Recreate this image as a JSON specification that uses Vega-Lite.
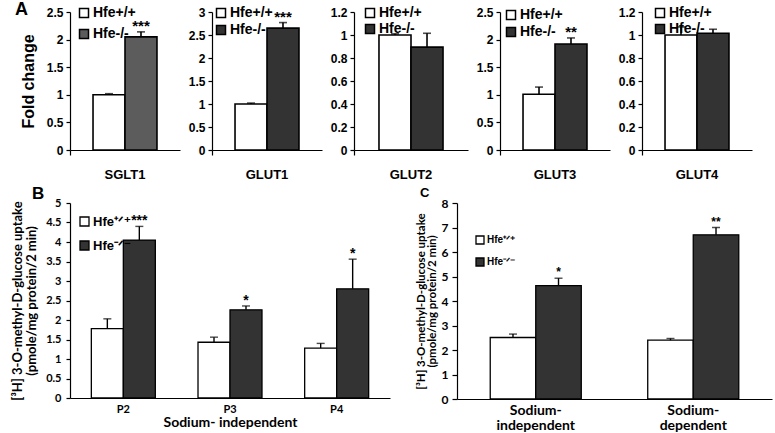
{
  "$schema": "https://vega.github.io/schema/vega-lite/v6.json",
  "autosize": {"type": "none"},
  "padding": {"left": 70, "top": 12, "right": 705, "bottom": 421},
  "background": "white",
  "config": {
    "view": {"stroke": null},
    "axis": {"domainColor": "black", "tickColor": "black", "labelColor": "black", "titleColor": "black", "grid": false, "domainWidth": 1.2, "tickWidth": 1.2},
    "title": {"color": "black"}
  },
  "spacing": 4,
  "resolve": {"scale": {"x": "independent", "y": "independent", "xOffset": "independent", "fill": "independent"}, "legend": {"fill": "independent"}},
  "vconcat": [
    {
      "bounds": "flush",
      "spacing": 32,
      "resolve": {"scale": {"x": "independent", "y": "independent", "xOffset": "independent", "fill": "independent"}, "legend": {"fill": "independent"}},
      "hconcat": [
        {
          "width": 110, "height": 138,
          "title": {"text": "A", "anchor": "start", "frame": "group", "offset": 0, "dx": -55, "dy": 13, "font": "Liberation Sans", "fontSize": 18, "fontWeight": "bold"},
          "data": {"values": [
            {"g": "SGLT1", "geno": "Hfe+/+", "v": 1.0, "hi": 1.02, "s": ""},
            {"g": "SGLT1", "geno": "Hfe-/-", "v": 2.05, "hi": 2.14, "s": "***"}
          ]},
          "encoding": {
            "x": {"field": "g", "type": "nominal", "scale": {"paddingInner": 0, "paddingOuter": 0}, "axis": {"title": null, "labelAngle": 0, "labelFont": "Liberation Sans", "labelFontSize": 13, "labelFontWeight": "bold", "labelPadding": 13, "ticks": true, "tickSize": 5, "bandPosition": 0}},
            "xOffset": {"field": "geno", "type": "nominal", "scale": {"domain": ["Hfe+/+", "Hfe-/-"], "paddingInner": 0, "paddingOuter": 0.72}}
          },
          "layer": [
            {"mark": {"type": "bar", "stroke": "black", "strokeWidth": 1.6},
             "encoding": {
               "y": {"field": "v", "type": "quantitative", "scale": {"domain": [0, 2.5], "nice": false}, "axis": {"values": [0, 0.5, 1, 1.5, 2, 2.5], "format": "~g", "title": "Fold change", "titleFont": "Liberation Sans", "titleFontSize": 16, "titleFontWeight": "bold", "titlePadding": 10, "labelFont": "Liberation Sans", "labelFontSize": 12, "labelFontWeight": "bold", "tickSize": 4, "labelPadding": 3}},
               "fill": {"field": "geno", "type": "nominal", "scale": {"domain": ["Hfe+/+", "Hfe-/-"], "range": ["white", "#5c5c5c"]}, "legend": {"orient": "none", "legendX": 7, "legendY": -6, "title": null, "padding": 0, "symbolType": "square", "symbolSize": 81, "symbolStrokeColor": "black", "symbolStrokeWidth": 1.5, "labelFont": "Liberation Sans", "labelFontSize": 14, "labelFontWeight": "bold", "labelColor": "black", "rowPadding": 5, "labelOffset": 2}}
             }},
            {"mark": {"type": "rule", "color": "black", "strokeWidth": 1.6},
             "encoding": {"y": {"field": "v", "type": "quantitative", "scale": {"domain": [0, 2.5], "nice": false}, "axis": {"values": [0, 0.5, 1, 1.5, 2, 2.5], "format": "~g", "title": "Fold change", "titleFont": "Liberation Sans", "titleFontSize": 16, "titleFontWeight": "bold", "titlePadding": 10, "labelFont": "Liberation Sans", "labelFontSize": 12, "labelFontWeight": "bold", "tickSize": 4, "labelPadding": 3}}, "y2": {"field": "hi"}}},
            {"mark": {"type": "tick", "color": "black", "thickness": 1.6, "size": 8, "orient": "horizontal"},
             "encoding": {"y": {"field": "hi", "type": "quantitative", "scale": {"domain": [0, 2.5], "nice": false}, "axis": {"values": [0, 0.5, 1, 1.5, 2, 2.5], "format": "~g", "title": "Fold change", "titleFont": "Liberation Sans", "titleFontSize": 16, "titleFontWeight": "bold", "titlePadding": 10, "labelFont": "Liberation Sans", "labelFontSize": 12, "labelFontWeight": "bold", "tickSize": 4, "labelPadding": 3}}}},
            {"mark": {"type": "text", "font": "Liberation Sans", "fontSize": 15, "fontWeight": "bold", "baseline": "bottom", "dy": 2, "color": "black"},
             "encoding": {"y": {"field": "hi", "type": "quantitative", "scale": {"domain": [0, 2.5], "nice": false}, "axis": {"values": [0, 0.5, 1, 1.5, 2, 2.5], "format": "~g", "title": "Fold change", "titleFont": "Liberation Sans", "titleFontSize": 16, "titleFontWeight": "bold", "titlePadding": 10, "labelFont": "Liberation Sans", "labelFontSize": 12, "labelFontWeight": "bold", "tickSize": 4, "labelPadding": 3}}, "text": {"field": "s"}}}
          ]
        },
        {
          "width": 110, "height": 138,
          "data": {"values": [
            {"g": "GLUT1", "geno": "Hfe+/+", "v": 1.0, "hi": 1.02, "s": ""},
            {"g": "GLUT1", "geno": "Hfe-/-", "v": 2.65, "hi": 2.77, "s": "***"}
          ]},
          "encoding": {
            "x": {"field": "g", "type": "nominal", "scale": {"paddingInner": 0, "paddingOuter": 0}, "axis": {"title": null, "labelAngle": 0, "labelFont": "Liberation Sans", "labelFontSize": 13, "labelFontWeight": "bold", "labelPadding": 13, "ticks": true, "tickSize": 5, "bandPosition": 0}},
            "xOffset": {"field": "geno", "type": "nominal", "scale": {"domain": ["Hfe+/+", "Hfe-/-"], "paddingInner": 0, "paddingOuter": 0.72}}
          },
          "layer": [
            {"mark": {"type": "bar", "stroke": "black", "strokeWidth": 1.6},
             "encoding": {
               "y": {"field": "v", "type": "quantitative", "scale": {"domain": [0, 3], "nice": false}, "axis": {"values": [0, 0.5, 1, 1.5, 2, 2.5, 3], "format": "~g", "title": null, "labelFont": "Liberation Sans", "labelFontSize": 12, "labelFontWeight": "bold", "tickSize": 4, "labelPadding": 3}},
               "fill": {"field": "geno", "type": "nominal", "scale": {"domain": ["Hfe+/+", "Hfe-/-"], "range": ["white", "#333333"]}, "legend": {"orient": "none", "legendX": 2, "legendY": -6, "title": null, "padding": 0, "symbolType": "square", "symbolSize": 81, "symbolStrokeColor": "black", "symbolStrokeWidth": 1.5, "labelFont": "Liberation Sans", "labelFontSize": 14, "labelFontWeight": "bold", "labelColor": "black", "rowPadding": 1, "labelOffset": 2}}
             }},
            {"mark": {"type": "rule", "color": "black", "strokeWidth": 1.6},
             "encoding": {"y": {"field": "v", "type": "quantitative", "scale": {"domain": [0, 3], "nice": false}, "axis": {"values": [0, 0.5, 1, 1.5, 2, 2.5, 3], "format": "~g", "title": null, "labelFont": "Liberation Sans", "labelFontSize": 12, "labelFontWeight": "bold", "tickSize": 4, "labelPadding": 3}}, "y2": {"field": "hi"}}},
            {"mark": {"type": "tick", "color": "black", "thickness": 1.6, "size": 8, "orient": "horizontal"},
             "encoding": {"y": {"field": "hi", "type": "quantitative", "scale": {"domain": [0, 3], "nice": false}, "axis": {"values": [0, 0.5, 1, 1.5, 2, 2.5, 3], "format": "~g", "title": null, "labelFont": "Liberation Sans", "labelFontSize": 12, "labelFontWeight": "bold", "tickSize": 4, "labelPadding": 3}}}},
            {"mark": {"type": "text", "font": "Liberation Sans", "fontSize": 15, "fontWeight": "bold", "baseline": "bottom", "dy": 2, "color": "black"},
             "encoding": {"y": {"field": "hi", "type": "quantitative", "scale": {"domain": [0, 3], "nice": false}, "axis": {"values": [0, 0.5, 1, 1.5, 2, 2.5, 3], "format": "~g", "title": null, "labelFont": "Liberation Sans", "labelFontSize": 12, "labelFontWeight": "bold", "tickSize": 4, "labelPadding": 3}}, "text": {"field": "s"}}}
          ]
        },
        {
          "width": 114, "height": 138,
          "data": {"values": [
            {"g": "GLUT2", "geno": "Hfe+/+", "v": 1.0, "hi": 1.01, "s": ""},
            {"g": "GLUT2", "geno": "Hfe-/-", "v": 0.895, "hi": 1.015, "s": ""}
          ]},
          "encoding": {
            "x": {"field": "g", "type": "nominal", "scale": {"paddingInner": 0, "paddingOuter": 0}, "axis": {"title": null, "labelAngle": 0, "labelFont": "Liberation Sans", "labelFontSize": 13, "labelFontWeight": "bold", "labelPadding": 13, "ticks": true, "tickSize": 5, "bandPosition": 0}},
            "xOffset": {"field": "geno", "type": "nominal", "scale": {"domain": ["Hfe+/+", "Hfe-/-"], "paddingInner": 0, "paddingOuter": 0.78}}
          },
          "layer": [
            {"mark": {"type": "bar", "stroke": "black", "strokeWidth": 1.6},
             "encoding": {
               "y": {"field": "v", "type": "quantitative", "scale": {"domain": [0, 1.2], "nice": false}, "axis": {"values": [0, 0.2, 0.4, 0.6, 0.8, 1, 1.2], "format": "~g", "title": null, "labelFont": "Liberation Sans", "labelFontSize": 12, "labelFontWeight": "bold", "tickSize": 4, "labelPadding": 3}},
               "fill": {"field": "geno", "type": "nominal", "scale": {"domain": ["Hfe+/+", "Hfe-/-"], "range": ["white", "#333333"]}, "legend": {"orient": "none", "legendX": 9, "legendY": -6, "title": null, "padding": 0, "symbolType": "square", "symbolSize": 81, "symbolStrokeColor": "black", "symbolStrokeWidth": 1.5, "labelFont": "Liberation Sans", "labelFontSize": 14, "labelFontWeight": "bold", "labelColor": "black", "rowPadding": 0, "labelOffset": 2}}
             }},
            {"mark": {"type": "rule", "color": "black", "strokeWidth": 1.6},
             "encoding": {"y": {"field": "v", "type": "quantitative", "scale": {"domain": [0, 1.2], "nice": false}, "axis": {"values": [0, 0.2, 0.4, 0.6, 0.8, 1, 1.2], "format": "~g", "title": null, "labelFont": "Liberation Sans", "labelFontSize": 12, "labelFontWeight": "bold", "tickSize": 4, "labelPadding": 3}}, "y2": {"field": "hi"}}},
            {"mark": {"type": "tick", "color": "black", "thickness": 1.6, "size": 8, "orient": "horizontal"},
             "encoding": {"y": {"field": "hi", "type": "quantitative", "scale": {"domain": [0, 1.2], "nice": false}, "axis": {"values": [0, 0.2, 0.4, 0.6, 0.8, 1, 1.2], "format": "~g", "title": null, "labelFont": "Liberation Sans", "labelFontSize": 12, "labelFontWeight": "bold", "tickSize": 4, "labelPadding": 3}}}}
          ]
        },
        {
          "width": 110, "height": 138,
          "data": {"values": [
            {"g": "GLUT3", "geno": "Hfe+/+", "v": 1.01, "hi": 1.14, "s": ""},
            {"g": "GLUT3", "geno": "Hfe-/-", "v": 1.92, "hi": 2.03, "s": "**"}
          ]},
          "encoding": {
            "x": {"field": "g", "type": "nominal", "scale": {"paddingInner": 0, "paddingOuter": 0}, "axis": {"title": null, "labelAngle": 0, "labelFont": "Liberation Sans", "labelFontSize": 13, "labelFontWeight": "bold", "labelPadding": 13, "ticks": true, "tickSize": 5, "bandPosition": 0}},
            "xOffset": {"field": "geno", "type": "nominal", "scale": {"domain": ["Hfe+/+", "Hfe-/-"], "paddingInner": 0, "paddingOuter": 0.72}}
          },
          "layer": [
            {"mark": {"type": "bar", "stroke": "black", "strokeWidth": 1.6},
             "encoding": {
               "y": {"field": "v", "type": "quantitative", "scale": {"domain": [0, 2.5], "nice": false}, "axis": {"values": [0, 0.5, 1, 1.5, 2, 2.5], "format": "~g", "title": null, "labelFont": "Liberation Sans", "labelFontSize": 12, "labelFontWeight": "bold", "tickSize": 4, "labelPadding": 3}},
               "fill": {"field": "geno", "type": "nominal", "scale": {"domain": ["Hfe+/+", "Hfe-/-"], "range": ["white", "#333333"]}, "legend": {"orient": "none", "legendX": 4, "legendY": -4, "title": null, "padding": 0, "symbolType": "square", "symbolSize": 81, "symbolStrokeColor": "black", "symbolStrokeWidth": 1.5, "labelFont": "Liberation Sans", "labelFontSize": 14, "labelFontWeight": "bold", "labelColor": "black", "rowPadding": 1, "labelOffset": 2}}
             }},
            {"mark": {"type": "rule", "color": "black", "strokeWidth": 1.6},
             "encoding": {"y": {"field": "v", "type": "quantitative", "scale": {"domain": [0, 2.5], "nice": false}, "axis": {"values": [0, 0.5, 1, 1.5, 2, 2.5], "format": "~g", "title": null, "labelFont": "Liberation Sans", "labelFontSize": 12, "labelFontWeight": "bold", "tickSize": 4, "labelPadding": 3}}, "y2": {"field": "hi"}}},
            {"mark": {"type": "tick", "color": "black", "thickness": 1.6, "size": 8, "orient": "horizontal"},
             "encoding": {"y": {"field": "hi", "type": "quantitative", "scale": {"domain": [0, 2.5], "nice": false}, "axis": {"values": [0, 0.5, 1, 1.5, 2, 2.5], "format": "~g", "title": null, "labelFont": "Liberation Sans", "labelFontSize": 12, "labelFontWeight": "bold", "tickSize": 4, "labelPadding": 3}}}},
            {"mark": {"type": "text", "font": "Liberation Sans", "fontSize": 15, "fontWeight": "bold", "baseline": "bottom", "dy": 2, "color": "black"},
             "encoding": {"y": {"field": "hi", "type": "quantitative", "scale": {"domain": [0, 2.5], "nice": false}, "axis": {"values": [0, 0.5, 1, 1.5, 2, 2.5], "format": "~g", "title": null, "labelFont": "Liberation Sans", "labelFontSize": 12, "labelFontWeight": "bold", "tickSize": 4, "labelPadding": 3}}, "text": {"field": "s"}}}
          ]
        },
        {
          "width": 110, "height": 138,
          "data": {"values": [
            {"g": "GLUT4", "geno": "Hfe+/+", "v": 1.0, "hi": 1.07, "s": ""},
            {"g": "GLUT4", "geno": "Hfe-/-", "v": 1.015, "hi": 1.05, "s": ""}
          ]},
          "encoding": {
            "x": {"field": "g", "type": "nominal", "scale": {"paddingInner": 0, "paddingOuter": 0}, "axis": {"title": null, "labelAngle": 0, "labelFont": "Liberation Sans", "labelFontSize": 13, "labelFontWeight": "bold", "labelPadding": 13, "ticks": true, "tickSize": 5, "bandPosition": 0}},
            "xOffset": {"field": "geno", "type": "nominal", "scale": {"domain": ["Hfe+/+", "Hfe-/-"], "paddingInner": 0, "paddingOuter": 0.72}}
          },
          "layer": [
            {"mark": {"type": "bar", "stroke": "black", "strokeWidth": 1.6},
             "encoding": {
               "y": {"field": "v", "type": "quantitative", "scale": {"domain": [0, 1.2], "nice": false}, "axis": {"values": [0, 0.2, 0.4, 0.6, 0.8, 1, 1.2], "format": "~g", "title": null, "labelFont": "Liberation Sans", "labelFontSize": 12, "labelFontWeight": "bold", "tickSize": 4, "labelPadding": 3}},
               "fill": {"field": "geno", "type": "nominal", "scale": {"domain": ["Hfe+/+", "Hfe-/-"], "range": ["white", "#333333"]}, "legend": {"orient": "none", "legendX": 11, "legendY": -6, "title": null, "padding": 0, "symbolType": "square", "symbolSize": 81, "symbolStrokeColor": "black", "symbolStrokeWidth": 1.5, "labelFont": "Liberation Sans", "labelFontSize": 14, "labelFontWeight": "bold", "labelColor": "black", "rowPadding": 0, "labelOffset": 2}}
             }},
            {"mark": {"type": "rule", "color": "black", "strokeWidth": 1.6},
             "encoding": {"y": {"field": "v", "type": "quantitative", "scale": {"domain": [0, 1.2], "nice": false}, "axis": {"values": [0, 0.2, 0.4, 0.6, 0.8, 1, 1.2], "format": "~g", "title": null, "labelFont": "Liberation Sans", "labelFontSize": 12, "labelFontWeight": "bold", "tickSize": 4, "labelPadding": 3}}, "y2": {"field": "hi"}}},
            {"mark": {"type": "tick", "color": "black", "thickness": 1.6, "size": 8, "orient": "horizontal"},
             "encoding": {"y": {"field": "hi", "type": "quantitative", "scale": {"domain": [0, 1.2], "nice": false}, "axis": {"values": [0, 0.2, 0.4, 0.6, 0.8, 1, 1.2], "format": "~g", "title": null, "labelFont": "Liberation Sans", "labelFontSize": 12, "labelFontWeight": "bold", "tickSize": 4, "labelPadding": 3}}}}
          ]
        }
      ]
    },
    {
      "bounds": "flush",
      "spacing": 67,
      "resolve": {"scale": {"x": "independent", "y": "independent", "xOffset": "independent", "fill": "independent"}, "legend": {"fill": "independent"}},
      "hconcat": [
        {
          "width": 320, "height": 195,
          "title": {"text": "B", "anchor": "start", "frame": "group", "offset": 2, "dx": -38, "dy": 8, "font": "Liberation Sans", "fontSize": 17, "fontWeight": "bold"},
          "data": {"values": [
            {"p": "P2", "geno": "Hfe+/+", "v": 1.78, "hi": 2.03, "s": ""},
            {"p": "P2", "geno": "Hfe-/-", "v": 4.05, "hi": 4.4, "s": "***"},
            {"p": "P3", "geno": "Hfe+/+", "v": 1.43, "hi": 1.56, "s": ""},
            {"p": "P3", "geno": "Hfe-/-", "v": 2.26, "hi": 2.36, "s": "*"},
            {"p": "P4", "geno": "Hfe+/+", "v": 1.28, "hi": 1.4, "s": ""},
            {"p": "P4", "geno": "Hfe-/-", "v": 2.8, "hi": 3.56, "s": "*"}
          ]},
          "encoding": {
            "x": {"field": "p", "type": "nominal", "scale": {"paddingInner": 0, "paddingOuter": 0}, "axis": {"title": "Sodium- independent", "titleFont": "Lato", "titleFontSize": 14, "titleFontWeight": "bold", "titlePadding": 1, "labelAngle": 0, "labelFont": "Lato", "labelFontSize": 11, "labelFontWeight": "bold", "labelPadding": 5, "ticks": false}},
            "xOffset": {"field": "geno", "type": "nominal", "scale": {"domain": ["Hfe+/+", "Hfe-/-"], "paddingInner": 0, "paddingOuter": 0.667}}
          },
          "layer": [
            {"mark": {"type": "bar", "stroke": "black", "strokeWidth": 1.3},
             "encoding": {
               "y": {"field": "v", "type": "quantitative", "scale": {"domain": [0, 5], "nice": false}, "axis": {"values": [0, 0.5, 1, 1.5, 2, 2.5, 3, 3.5, 4, 4.5, 5], "format": "~g", "title": ["[³H] 3-O-methyl-D-glucose uptake", "(pmole/mg protein/2 min)"], "titleFont": "Lato", "titleFontSize": 13, "titleFontWeight": "bold", "titleLineHeight": 14, "titlePadding": 7, "labelFont": "Lato", "labelFontSize": 11, "labelFontWeight": "bold", "tickSize": 4, "labelPadding": 5}},
               "fill": {"field": "geno", "type": "nominal", "scale": {"domain": ["Hfe+/+", "Hfe-/-"], "range": ["white", "#333333"]}, "legend": {"orient": "none", "legendX": 8, "legendY": 12, "title": null, "padding": 0, "symbolType": "square", "symbolSize": 81, "symbolStrokeColor": "black", "symbolStrokeWidth": 1.3, "labelFont": "Liberation Sans", "labelFontSize": 13, "labelFontWeight": "bold", "labelColor": "black", "rowPadding": 9, "labelOffset": 2, "labelExpr": "datum.label == 'Hfe+/+' ? 'Hfe⁺ᐟ⁺' : 'Hfe⁻ᐟ⁻'"}}
             }},
            {"mark": {"type": "rule", "color": "black", "strokeWidth": 1.4},
             "encoding": {"y": {"field": "v", "type": "quantitative", "scale": {"domain": [0, 5], "nice": false}, "axis": {"values": [0, 0.5, 1, 1.5, 2, 2.5, 3, 3.5, 4, 4.5, 5], "format": "~g", "title": ["[³H] 3-O-methyl-D-glucose uptake", "(pmole/mg protein/2 min)"], "titleFont": "Lato", "titleFontSize": 13, "titleFontWeight": "bold", "titleLineHeight": 14, "titlePadding": 7, "labelFont": "Lato", "labelFontSize": 11, "labelFontWeight": "bold", "tickSize": 4, "labelPadding": 5}}, "y2": {"field": "hi"}}},
            {"mark": {"type": "tick", "color": "black", "thickness": 1.4, "size": 8, "orient": "horizontal"},
             "encoding": {"y": {"field": "hi", "type": "quantitative", "scale": {"domain": [0, 5], "nice": false}, "axis": {"values": [0, 0.5, 1, 1.5, 2, 2.5, 3, 3.5, 4, 4.5, 5], "format": "~g", "title": ["[³H] 3-O-methyl-D-glucose uptake", "(pmole/mg protein/2 min)"], "titleFont": "Lato", "titleFontSize": 13, "titleFontWeight": "bold", "titleLineHeight": 14, "titlePadding": 7, "labelFont": "Lato", "labelFontSize": 11, "labelFontWeight": "bold", "tickSize": 4, "labelPadding": 5}}}},
            {"mark": {"type": "text", "font": "Liberation Sans", "fontSize": 14, "fontWeight": "bold", "baseline": "bottom", "dy": 2, "color": "black"},
             "encoding": {"y": {"field": "hi", "type": "quantitative", "scale": {"domain": [0, 5], "nice": false}, "axis": {"values": [0, 0.5, 1, 1.5, 2, 2.5, 3, 3.5, 4, 4.5, 5], "format": "~g", "title": ["[³H] 3-O-methyl-D-glucose uptake", "(pmole/mg protein/2 min)"], "titleFont": "Lato", "titleFontSize": 13, "titleFontWeight": "bold", "titleLineHeight": 14, "titlePadding": 7, "labelFont": "Lato", "labelFontSize": 11, "labelFontWeight": "bold", "tickSize": 4, "labelPadding": 5}}, "text": {"field": "s"}}}
          ]
        },
        {
          "width": 315, "height": 196,
          "title": {"text": "C", "anchor": "start", "frame": "group", "offset": 5, "dx": -37, "dy": 8, "font": "Liberation Sans", "fontSize": 13, "fontWeight": "bold"},
          "data": {"values": [
            {"c": "Sodium-|independent", "geno": "Hfe+/+", "v": 2.51, "hi": 2.65, "s": ""},
            {"c": "Sodium-|independent", "geno": "Hfe-/-", "v": 4.63, "hi": 4.93, "s": "*"},
            {"c": "Sodium-|dependent", "geno": "Hfe+/+", "v": 2.4, "hi": 2.47, "s": ""},
            {"c": "Sodium-|dependent", "geno": "Hfe-/-", "v": 6.7, "hi": 7.0, "s": "**"}
          ]},
          "encoding": {
            "x": {"field": "c", "type": "nominal", "sort": null, "scale": {"paddingInner": 0, "paddingOuter": 0}, "axis": {"title": null, "labelExpr": "split(datum.label, '|')", "labelAngle": 0, "labelFont": "Lato", "labelFontSize": 14, "labelFontWeight": "bold", "labelLineHeight": 15, "labelPadding": 4, "ticks": false}},
            "xOffset": {"field": "geno", "type": "nominal", "scale": {"domain": ["Hfe+/+", "Hfe-/-"], "paddingInner": 0, "paddingOuter": 0.73}}
          },
          "layer": [
            {"mark": {"type": "bar", "stroke": "black", "strokeWidth": 1.3},
             "encoding": {
               "y": {"field": "v", "type": "quantitative", "scale": {"domain": [0, 8], "nice": false}, "axis": {"values": [0, 1, 2, 3, 4, 5, 6, 7, 8], "format": "~g", "title": ["[³H] 3-O-methyl-D-glucose uptake", "(pmole/mg protein/2 min)"], "titleFont": "Lato", "titleFontSize": 11.5, "titleFontWeight": "bold", "titleLineHeight": 11, "titlePadding": 4, "labelFont": "Lato", "labelFontSize": 12, "labelFontWeight": "bold", "tickSize": 5, "labelPadding": 4}},
               "fill": {"field": "geno", "type": "nominal", "scale": {"domain": ["Hfe+/+", "Hfe-/-"], "range": ["white", "#333333"]}, "legend": {"orient": "none", "legendX": 18, "legendY": 32, "title": null, "padding": 0, "symbolType": "square", "symbolSize": 64, "symbolStrokeColor": "black", "symbolStrokeWidth": 1.3, "labelFont": "Liberation Sans", "labelFontSize": 10, "labelFontWeight": "bold", "labelColor": "black", "rowPadding": 8, "labelOffset": 2, "labelExpr": "datum.label == 'Hfe+/+' ? 'Hfe⁺ᐟ⁺' : 'Hfe⁻ᐟ⁻'"}}
             }},
            {"mark": {"type": "rule", "color": "black", "strokeWidth": 1.4},
             "encoding": {"y": {"field": "v", "type": "quantitative", "scale": {"domain": [0, 8], "nice": false}, "axis": {"values": [0, 1, 2, 3, 4, 5, 6, 7, 8], "format": "~g", "title": ["[³H] 3-O-methyl-D-glucose uptake", "(pmole/mg protein/2 min)"], "titleFont": "Lato", "titleFontSize": 11.5, "titleFontWeight": "bold", "titleLineHeight": 11, "titlePadding": 4, "labelFont": "Lato", "labelFontSize": 12, "labelFontWeight": "bold", "tickSize": 5, "labelPadding": 4}}, "y2": {"field": "hi"}}},
            {"mark": {"type": "tick", "color": "black", "thickness": 1.4, "size": 8, "orient": "horizontal"},
             "encoding": {"y": {"field": "hi", "type": "quantitative", "scale": {"domain": [0, 8], "nice": false}, "axis": {"values": [0, 1, 2, 3, 4, 5, 6, 7, 8], "format": "~g", "title": ["[³H] 3-O-methyl-D-glucose uptake", "(pmole/mg protein/2 min)"], "titleFont": "Lato", "titleFontSize": 11.5, "titleFontWeight": "bold", "titleLineHeight": 11, "titlePadding": 4, "labelFont": "Lato", "labelFontSize": 12, "labelFontWeight": "bold", "tickSize": 5, "labelPadding": 4}}}},
            {"mark": {"type": "text", "font": "Liberation Sans", "fontSize": 12, "fontWeight": "bold", "baseline": "bottom", "dy": 1, "color": "black"},
             "encoding": {"y": {"field": "hi", "type": "quantitative", "scale": {"domain": [0, 8], "nice": false}, "axis": {"values": [0, 1, 2, 3, 4, 5, 6, 7, 8], "format": "~g", "title": ["[³H] 3-O-methyl-D-glucose uptake", "(pmole/mg protein/2 min)"], "titleFont": "Lato", "titleFontSize": 11.5, "titleFontWeight": "bold", "titleLineHeight": 11, "titlePadding": 4, "labelFont": "Lato", "labelFontSize": 12, "labelFontWeight": "bold", "tickSize": 5, "labelPadding": 4}}, "text": {"field": "s"}}}
          ]
        }
      ]
    }
  ]
}
